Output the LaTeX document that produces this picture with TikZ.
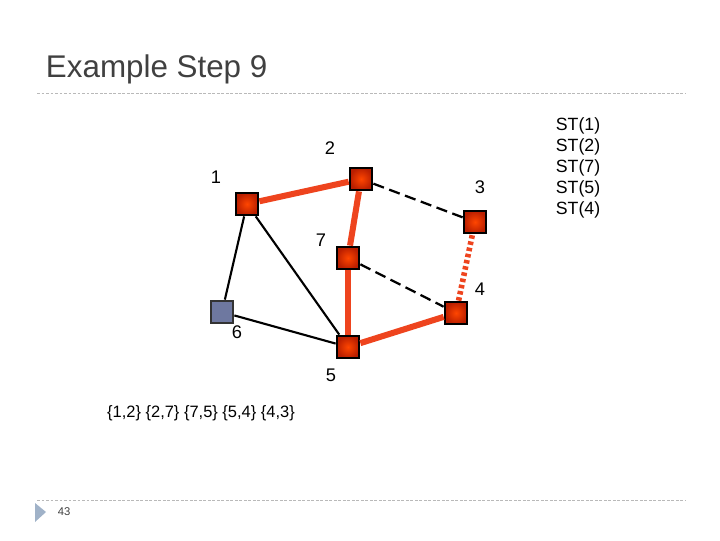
\documentclass[tikz,border=0pt]{standalone}
\usepackage{fontspec}
\setmainfont{Liberation Sans}
\definecolor{treeorange}{RGB}{238,68,30}
\definecolor{vtxin}{RGB}{255,70,0}
\definecolor{vtxout}{RGB}{185,30,0}
\definecolor{vtxgrey}{RGB}{110,120,160}
\definecolor{titlegrey}{RGB}{64,64,64}
\definecolor{rulegrey}{RGB}{185,185,185}
\definecolor{bulletblue}{RGB}{160,178,200}
\tikzset{
  vtx/.style={draw=black, line width=1.6pt, minimum size=16pt, inner sep=0pt,
    inner color=vtxin, outer color=vtxout},
  vtxoff/.style={draw=black!80, line width=1.6pt, minimum size=16pt, inner sep=0pt,
    fill=vtxgrey},
  lab/.style={font=\fontsize{13}{15}\selectfont, inner sep=0pt},
  tree/.style={line width=4.3pt, draw=treeorange},
  pick/.style={line width=4pt, draw=treeorange, dash pattern=on 2.5pt off 2pt},
  cand/.style={line width=1.6pt, dash pattern=on 8pt off 4pt},
  plain/.style={line width=1.5pt},
  sepline/.style={line width=0.6pt, draw=rulegrey, dash pattern=on 2pt off 1.2pt}
}
\begin{document}
\begin{tikzpicture}[x=0.025cm, y=-0.025cm]
                \useasboundingbox (0,0) rectangle (720,540);

                % Slide title and rules
                \node [anchor=west, text=titlegrey, font=\fontsize{22.3}{26}\selectfont] (title) at (41,69) {Example Step 9};
                \draw [sepline] (37,93) -- (685,93);
                \draw [sepline] (37,500) -- (685,500);

                % Page marker
                \fill [bulletblue] (35,503) -- (46,512) -- (35,522) -- cycle;
                \node [anchor=west, text=titlegrey, font=\fontsize{8}{9}\selectfont] (page) at (53,512) {43};

                % Vertices
                \node [vtx] (v1) at (247,204) {};
                \node [vtx] (v2) at (361,179) {};
                \node [vtx] (v3) at (475,222) {};
                \node [vtx] (v7) at (348,258) {};
                \node [vtx] (v4) at (456,313) {};
                \node [vtxoff] (v6) at (222,312) {};
                \node [vtx] (v5) at (348,347) {};

                % Vertex labels
                \node [lab] (l1) at (216,177) {1};
                \node [lab] (l2) at (330,148) {2};
                \node [lab] (l3) at (480,187) {3};
                \node [lab] (l7) at (321,240) {7};
                \node [lab] (l4) at (480,289) {4};
                \node [lab] (l6) at (237,332) {6};
                \node [lab] (l5) at (331,375) {5};

                % Drawing plain edges
                \draw [plain] (v1) -- (v6);
                \draw [plain] (v1) -- (v5);
                \draw [plain] (v6) -- (v5);

                % Drawing candidate edges
                \draw [cand] (v2) -- (v3);
                \draw [cand] (v7) -- (v4);

                % Drawing tree edges
                \draw [tree] (v1) -- (v2);
                \draw [tree] (v2) -- (v7);
                \draw [tree] (v7) -- (v5);
                \draw [tree] (v5) -- (v4);

                % Drawing chosen edge 4 3
                \draw [pick] (v4) -- (v3);

                % Edge list
                \node [font=\fontsize{11.7}{14}\selectfont] (edges) at (201,413) {\{1,2\} \{2,7\} \{7,5\} \{5,4\} \{4,3\}};

                % Tree list
                \node [font=\fontsize{12.6}{15}\selectfont, align=center] (stlist) at (578,168)
                  {ST(1)\\ST(2)\\ST(7)\\ST(5)\\ST(4)};
\end{tikzpicture}
\end{document}
